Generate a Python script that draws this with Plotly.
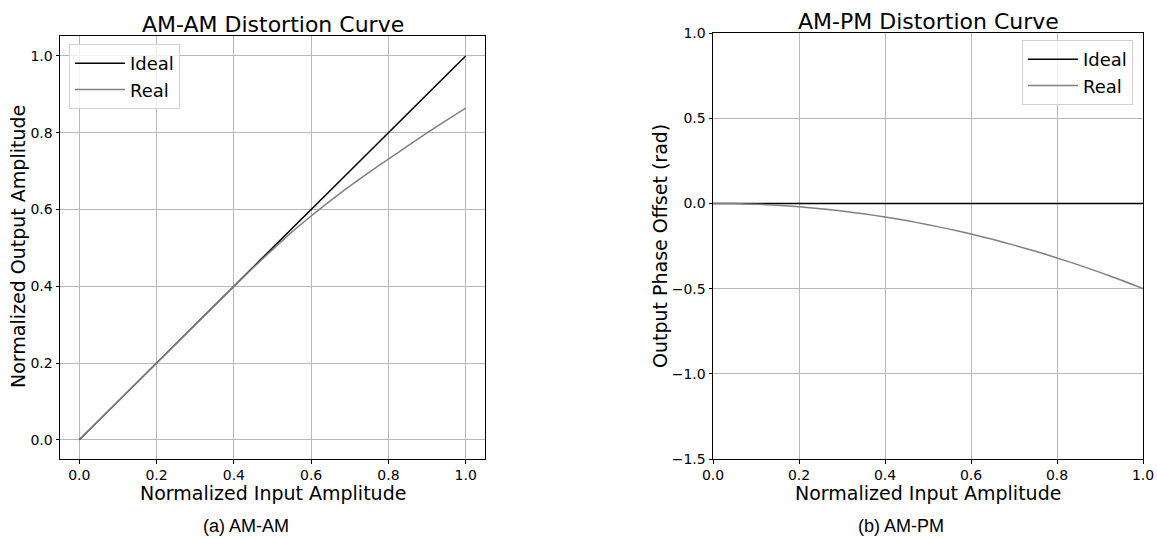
import plotly.graph_objects as go

# ---- data ----
amp_in = [0.0, 0.05, 0.1, 0.15, 0.2, 0.25, 0.3, 0.35, 0.4, 0.45, 0.5,
          0.55, 0.6, 0.65, 0.7, 0.75, 0.8, 0.85, 0.9, 0.95, 1.0]
amam_ideal = [0.0, 0.05, 0.1, 0.15, 0.2, 0.25, 0.3, 0.35, 0.4, 0.45, 0.5,
              0.55, 0.6, 0.65, 0.7, 0.75, 0.8, 0.85, 0.9, 0.95, 1.0]
amam_real = [0.0, 0.05, 0.1, 0.15, 0.2, 0.25, 0.2998, 0.3495, 0.399, 0.4483, 0.4955,
             0.541, 0.583, 0.623, 0.661, 0.697, 0.731, 0.7655, 0.7995, 0.832, 0.864]
ampm_ideal = [0.0] * 21
ampm_real = [0.0, -0.001, -0.005, -0.011, -0.02, -0.031, -0.045, -0.061, -0.08, -0.101, -0.125,
             -0.151, -0.18, -0.211, -0.245, -0.281, -0.32, -0.361, -0.405, -0.451, -0.5]

tick_vals_x = [0.0, 0.2, 0.4, 0.6, 0.8, 1.0]
tick_vals_y1 = [0.0, 0.2, 0.4, 0.6, 0.8, 1.0]
tick_vals_y2 = [-1.5, -1.0, -0.5, 0.0, 0.5, 1.0]

W, H = 1157, 539
FONT = "DejaVu Sans"

fig = go.Figure()
fig.add_trace(go.Scatter(x=amp_in, y=amam_ideal, mode="lines", name="Ideal",
                         line=dict(color="black", width=1.5), xaxis="x", yaxis="y", legend="legend"))
fig.add_trace(go.Scatter(x=amp_in, y=amam_real, mode="lines", name="Real",
                         line=dict(color="#808080", width=1.5, shape="spline", smoothing=0.6),
                         xaxis="x", yaxis="y", legend="legend"))
fig.add_trace(go.Scatter(x=amp_in, y=ampm_ideal, mode="lines", name="Ideal",
                         line=dict(color="black", width=1.5), xaxis="x2", yaxis="y2", legend="legend2"))
fig.add_trace(go.Scatter(x=amp_in, y=ampm_real, mode="lines", name="Real",
                         line=dict(color="#808080", width=1.5, shape="spline", smoothing=0.6),
                         xaxis="x2", yaxis="y2", legend="legend2"))

def px(x):
    return x / W

def py(y):
    return 1 - y / H

axis_common = dict(showline=True, mirror=True, linecolor="black", linewidth=1,
                   ticks="outside", ticklen=3.5, tickcolor="black", tickwidth=1,
                   showgrid=True, gridcolor="#b8b8b8", gridwidth=1, zeroline=False,
                   tickfont=dict(family=FONT, size=14, color="black"),
                   tickformat=".1f", automargin=False)

fig.update_layout(
    width=W, height=H,
    margin=dict(l=0, r=0, t=0, b=0),
    paper_bgcolor="white", plot_bgcolor="white",
    xaxis=dict(domain=[px(60), px(485)], range=[-0.05, 1.05], tickvals=tick_vals_x,
               anchor="y", **axis_common),
    yaxis=dict(domain=[py(459), py(36)], range=[-0.05, 1.052], tickvals=tick_vals_y1,
               anchor="x", **axis_common),
    xaxis2=dict(domain=[px(713), px(1143)], range=[0, 1], tickvals=tick_vals_x,
                anchor="y2", **axis_common),
    yaxis2=dict(domain=[py(459), py(33)], range=[-1.5, 1.0], tickvals=tick_vals_y2,
                anchor="x2", **axis_common),
    legend=dict(x=px(69), y=py(44), xanchor="left", yanchor="top",
                bgcolor="rgba(255,255,255,0.8)", bordercolor="#d0d0d0", borderwidth=1,
                font=dict(family=FONT, size=18, color="black"), tracegroupgap=0,
                itemwidth=50),
    legend2=dict(x=px(1133), y=py(40), xanchor="right", yanchor="top",
                 bgcolor="rgba(255,255,255,0.8)", bordercolor="#d0d0d0", borderwidth=1,
                 font=dict(family=FONT, size=18, color="black"), tracegroupgap=0,
                 itemwidth=50),
    showlegend=True,
)

def ann(text, x, y, size, family=FONT, angle=0):
    fig.add_annotation(text=text, x=px(x), y=py(y), xref="paper", yref="paper",
                       showarrow=False, xanchor="center", yanchor="middle",
                       textangle=angle, font=dict(family=family, size=size, color="black"))

ann("AM-AM Distortion Curve", 272.5, 24, 22)
ann("AM-PM Distortion Curve", 928, 21, 22)
ann("Normalized Input Amplitude", 272.5, 492.5, 19)
ann("Normalized Input Amplitude", 928, 492.5, 19)
ann("Normalized Output Amplitude", 18, 247, 19, angle=-90)
ann("Output Phase Offset (rad)", 660, 246, 19, angle=-90)
ann("(a) AM-AM", 246, 526, 18, family="Liberation Sans")
ann("(b) AM-PM", 901, 526, 18, family="Liberation Sans")

fig.write_html("out.html")
